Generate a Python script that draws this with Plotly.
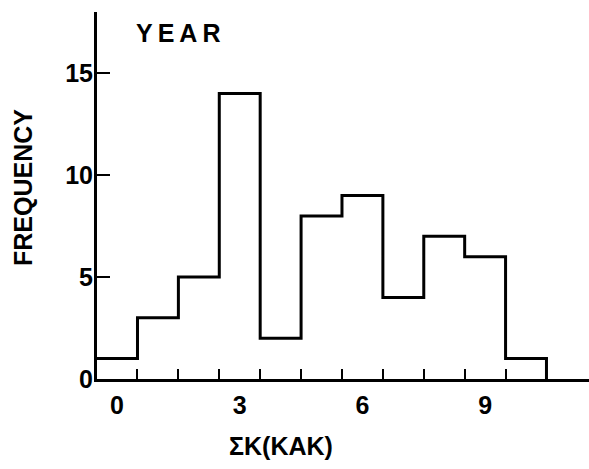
import plotly.graph_objects as go

# Histogram data: sum of K index (KAK), whole year
bin_centers = [0, 1, 2, 3, 4, 5, 6, 7, 8, 9, 10]
frequency = [1, 3, 5, 14, 2, 8, 9, 4, 7, 6, 1]
x_tick_vals = [0, 3, 6, 9]
x_tick_text = ["0", "3", "6", "9"]
y_tick_vals = [0, 5, 10, 15]
y_tick_text = ["0", "5", "10", "15"]

# step outline built from bin edges
edges = [c - 0.5 for c in bin_centers] + [bin_centers[-1] + 0.5]
step_y = frequency + [0]
minor_vals = [c + 0.5 for c in bin_centers]

W, H = 589, 469
L, R, T, B = 97, 0, 12, 90
pw, ph = W - L - R, H - T - B

def px(xp):
    return (xp - L) / pw

def py(yp):
    return (H - B - yp) / ph

FONT = "Liberation Sans, Arial, sans-serif"
BOLD = dict(family=FONT, size=25, color="black", weight="bold")

fig = go.Figure()
fig.add_trace(go.Scatter(
    x=edges, y=step_y, mode="lines", line_shape="hv",
    line=dict(color="black", width=3), hoverinfo="skip", showlegend=False,
))

fig.update_layout(
    width=W, height=H,
    margin=dict(l=L, r=R, t=T, b=B, pad=0),
    paper_bgcolor="white", plot_bgcolor="white",
    font=dict(family=FONT, size=25, color="black"),
    showlegend=False,
    xaxis=dict(
        range=[-0.49, 11.54], showgrid=False, zeroline=False,
        showline=True, linecolor="black", linewidth=3,
        tickmode="array", tickvals=x_tick_vals, ticktext=x_tick_text,
        ticks="", ticklabelstandoff=2,
        minor=dict(tickmode="array", tickvals=minor_vals, ticks="inside",
                   ticklen=10, tickwidth=2, tickcolor="black", showgrid=False),
        tickfont=BOLD,
    ),
    yaxis=dict(
        range=[0, 18], showgrid=False, zeroline=False,
        showline=True, linecolor="black", linewidth=3,
        tickmode="array", tickvals=y_tick_vals, ticktext=y_tick_text,
        ticks="inside", ticklen=13, tickwidth=2, tickcolor="black",
        ticklabelstandoff=-4,
        tickfont=BOLD,
    ),
    annotations=[
        dict(text="Y\u2009E\u2009A\u2009R", x=px(178), y=py(33), xref="paper", yref="paper",
             showarrow=False, xanchor="center", yanchor="middle", font=BOLD),
        dict(text="FREQUENCY", x=px(23), y=py(188), xref="paper", yref="paper",
             showarrow=False, xanchor="center", yanchor="middle", textangle=-90,
             font=BOLD),
        dict(text="ΣK(KAK)", x=px(281), y=py(446), xref="paper", yref="paper",
             showarrow=False, xanchor="center", yanchor="middle", font=BOLD),
    ],
)

fig.write_html("out.html", config={"displayModeBar": False},
               post_script="document.body.style.margin='0';")
